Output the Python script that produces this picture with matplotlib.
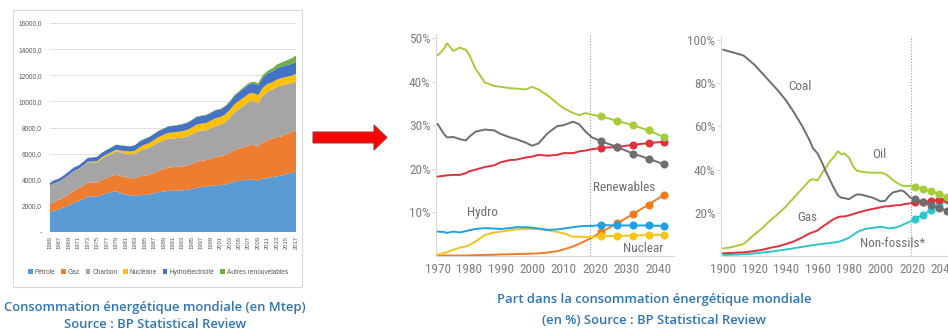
import matplotlib
matplotlib.use("Agg")
import matplotlib.pyplot as plt
from matplotlib.patches import Rectangle, Polygon
from matplotlib import font_manager

# ---------------- data: panel 1 (Mtep, stacked) ----------------
years1 = list(range(1965, 2018))
petrole = [1530, 1640, 1750, 1890, 2040, 2250, 2360, 2530, 2740, 2700,
           2690, 2860, 2960, 3060, 3110, 2970, 2880, 2800, 2780, 2830,
           2820, 2900, 2960, 3050, 3100, 3150, 3150, 3190, 3180, 3240,
           3290, 3370, 3450, 3470, 3540, 3570, 3590, 3630, 3720, 3860,
           3910, 3960, 4010, 3990, 3920, 4080, 4130, 4200, 4270, 4320,
           4450, 4540, 4620]
gaz = [630, 680, 720, 780, 850, 910, 960, 1010, 1060, 1080,
       1090, 1140, 1170, 1210, 1270, 1300, 1320, 1320, 1340, 1440,
       1480, 1500, 1570, 1640, 1710, 1770, 1810, 1820, 1850, 1860,
       1920, 2010, 2000, 2030, 2080, 2170, 2200, 2270, 2330, 2420,
       2480, 2540, 2620, 2680, 2630, 2820, 2880, 2940, 2990, 3010,
       3060, 3100, 3160]
charbon = [1400, 1420, 1400, 1430, 1470, 1480, 1470, 1490, 1540, 1540,
           1570, 1640, 1690, 1700, 1780, 1800, 1800, 1820, 1870, 1960,
           2040, 2060, 2130, 2170, 2200, 2220, 2190, 2180, 2190, 2210,
           2260, 2300, 2300, 2290, 2320, 2380, 2400, 2480, 2690, 2880,
           3030, 3180, 3330, 3360, 3320, 3530, 3730, 3760, 3860, 3880,
           3790, 3730, 3730]
nucleaire = [6, 8, 9, 12, 14, 18, 25, 35, 45, 60,
             85, 100, 125, 145, 150, 160, 190, 210, 240, 290,
             340, 360, 390, 420, 430, 450, 470, 480, 500, 510,
             530, 550, 550, 560, 580, 590, 600, 610, 600, 620,
             630, 635, 620, 620, 610, 625, 600, 560, 560, 575,
             580, 590, 596]
hydroelec = [210, 225, 230, 240, 255, 265, 275, 290, 295, 320,
             330, 335, 340, 365, 380, 390, 395, 405, 420, 430,
             440, 450, 455, 465, 465, 490, 500, 500, 525, 530,
             560, 570, 580, 585, 590, 600, 590, 600, 605, 640,
             660, 690, 700, 730, 740, 780, 790, 830, 860, 880,
             885, 910, 920]
autres = [3, 3, 3, 3, 3, 4, 4, 4, 4, 5,
          5, 5, 6, 6, 7, 8, 9, 10, 11, 13,
          15, 17, 19, 21, 24, 27, 29, 31, 33, 35,
          37, 39, 42, 45, 48, 51, 56, 63, 70, 80,
          90, 105, 120, 140, 160, 180, 210, 240, 280, 320,
          370, 420, 490]
labels1 = ["Pétrole", "Gaz", "Charbon", "Nucléaire", "Hydroélectricité", "Autres renouvelables"]
yticks1 = [0, 2000, 4000, 6000, 8000, 10000, 12000, 14000, 16000]

# ---------------- data: panel 2 (% share, 1970-2040) ----------------
yrs2 = [1970, 1972, 1973, 1975, 1977, 1979, 1980, 1982, 1985, 1988, 1990, 1993,
        1995, 1998, 2000, 2002, 2005, 2008, 2010, 2013, 2015, 2017, 2019]
oil2 = [46.0, 47.5, 48.8, 47.0, 47.8, 47.3, 46.2, 43.0, 39.8, 39.0, 38.8, 38.5,
        38.4, 38.2, 38.8, 38.2, 36.8, 35.0, 33.9, 32.8, 32.3, 32.8, 32.4]
coal2 = [30.3, 28.0, 27.2, 27.3, 26.8, 26.5, 27.3, 28.5, 29.0, 28.8, 28.0, 27.2,
         26.8, 26.0, 25.3, 25.8, 28.2, 29.8, 30.0, 30.8, 30.2, 28.5, 27.2]
gas2 = [18.2, 18.4, 18.5, 18.6, 18.6, 19.0, 19.4, 19.8, 20.4, 20.8, 21.5, 22.0,
        22.1, 22.6, 22.8, 23.2, 23.0, 23.2, 23.6, 23.6, 24.0, 24.2, 24.5]
hydro2 = [5.6, 5.5, 5.3, 5.6, 5.4, 5.7, 5.9, 6.2, 6.4, 6.3, 6.2, 6.4,
          6.6, 6.6, 6.5, 6.3, 6.0, 6.1, 6.3, 6.6, 6.8, 6.9, 6.9]
nuc2 = [0.3, 0.7, 0.9, 1.4, 1.9, 2.2, 2.5, 3.3, 4.8, 5.4, 5.6, 5.9,
        6.1, 6.2, 6.2, 6.2, 5.9, 5.5, 5.2, 4.4, 4.4, 4.4, 4.3]
ren2 = [0.1, 0.1, 0.1, 0.1, 0.1, 0.1, 0.15, 0.2, 0.25, 0.3, 0.35, 0.4,
        0.45, 0.5, 0.55, 0.6, 0.8, 1.1, 1.5, 2.2, 2.8, 3.5, 4.2]
proj_yrs = [2022, 2027, 2032, 2037, 2042]
oil_p = [32.0, 31.0, 30.0, 28.8, 27.2]
coal_p = [26.3, 25.0, 23.5, 22.3, 21.0]
gas_p = [24.8, 25.0, 25.5, 25.9, 26.2]
hydro_p = [7.1, 7.0, 7.0, 7.0, 6.9]
nuc_p = [4.6, 4.6, 4.7, 4.8, 4.9]
ren_p = [5.5, 7.5, 9.6, 11.8, 14.1]

# ---------------- data: panel 3 (% share, 1900-2040) ----------------
yrs3 = [1900, 1905, 1910, 1913, 1920, 1925, 1930, 1935, 1940, 1945, 1950, 1955,
        1957, 1960, 1963, 1965, 1968, 1970, 1973, 1975, 1977, 1980, 1983, 1985,
        1988, 1990, 1995, 2000, 2003, 2005, 2008, 2010, 2013, 2015, 2019]
coal3 = [95.5, 94.5, 93.5, 92.8, 88.5, 84.5, 80.5, 76.5, 72.0, 66.5, 60.5, 53.5,
         50.0, 47.5, 43.0, 39.5, 35.0, 32.0, 28.0, 27.0, 26.8, 26.3, 27.8, 28.5,
         28.4, 28.0, 27.0, 25.3, 25.5, 27.5, 29.5, 29.8, 30.4, 29.8, 27.0]
oil3 = [3.5, 4.0, 5.0, 5.5, 10.0, 13.0, 16.5, 19.5, 23.0, 27.0, 31.0, 35.0,
        35.5, 35.0, 38.5, 40.5, 44.0, 45.5, 48.5, 47.0, 47.5, 45.5, 41.0, 39.5,
        39.0, 38.8, 38.5, 38.6, 38.0, 37.0, 35.0, 34.0, 32.8, 32.3, 32.5]
gas3 = [1.3, 1.4, 1.6, 1.7, 2.3, 2.9, 3.8, 4.5, 5.5, 6.8, 8.5, 10.5,
        11.0, 11.8, 13.5, 14.5, 16.0, 17.0, 18.0, 18.3, 18.3, 18.8, 19.5, 20.0,
        20.5, 21.0, 21.8, 22.5, 23.0, 23.0, 23.3, 23.5, 23.6, 24.0, 24.4]
nonfos3 = [0.5, 0.6, 0.7, 0.8, 1.2, 1.6, 2.0, 2.5, 3.0, 3.6, 4.2, 4.8,
           5.0, 5.3, 5.6, 5.8, 6.0, 6.2, 6.5, 7.0, 7.5, 8.5, 10.0, 11.0,
           12.0, 12.5, 13.0, 13.5, 13.2, 12.8, 13.0, 13.3, 14.0, 14.8, 16.0]
nonfos_p = [17.2, 19.1, 21.3, 23.6, 25.9]

# ---------------- fonts ----------------
_fonts = font_manager.fontManager.ttflist
_names = {f.name for f in _fonts}
NARROW_SIZE = 9.5
if "Liberation Sans Narrow" in _names:
    NARROW = dict(family=["Liberation Sans Narrow", "DejaVu Sans"])
elif "Roboto Condensed" in _names:
    NARROW = dict(family=["Roboto Condensed", "DejaVu Sans"])
elif any(f.name == "DejaVu Sans" and f.stretch == "condensed" for f in _fonts):
    NARROW = dict(family=["DejaVu Sans"], stretch="condensed")
else:
    NARROW = dict(family=["Liberation Sans", "DejaVu Sans"])
    NARROW_SIZE = 8.3

# ---------------- styling ----------------
W, H = 948, 330
fig = plt.figure(figsize=(W / 100, H / 100), dpi=100)
fig.patch.set_facecolor("white")

def ax_px(x0, y0, x1, y1):
    return fig.add_axes([x0 / W, 1 - y1 / H, (x1 - x0) / W, (y1 - y0) / H])

def fx(x):
    return x / W

def fy(y):
    return 1 - y / H

GREY_TXT = "#7f7f7f"
C_OIL, C_COAL, C_GAS = "#a5cc3a", "#6e6e6e", "#e0303b"
C_HYD, C_NUC, C_REN, C_NF = "#1ea0e2", "#f5c518", "#f47a20", "#2cc6cc"

# ---- panel 1 frame ----
fig.add_artist(Rectangle((fx(13), fy(287)), (302 - 13) / W, (287 - 10) / H,
                         transform=fig.transFigure, fill=False,
                         ec="#d9d9d9", lw=0.8))

ax1 = ax_px(50, 23, 296, 232)
cols1 = ["#5b9bd5", "#ed7d31", "#a5a5a5", "#ffc000", "#4472c4", "#70ad47"]
polys = ax1.stackplot(years1, petrole, gaz, charbon, nucleaire, hydroelec, autres,
                      colors=cols1, labels=labels1, lw=0)
ax1.set_xlim(years1[0], years1[-1])
ax1.set_ylim(0, 16000)
ax1.set_yticks(yticks1)
ax1.set_yticklabels(["-" if v == 0 else f"{v},0" for v in yticks1],
                    fontsize=4.7, color="#595959", family="Liberation Sans")
ax1.set_xticks(years1[::2])
ax1.set_xticklabels([str(y) for y in years1[::2]], rotation=90,
                    fontsize=4.2, color="#595959", family="Liberation Sans")
ax1.tick_params(axis="y", length=0, pad=6)
ax1.tick_params(axis="x", length=0, pad=3)
ax1.yaxis.grid(True, color="#d9d9d9", lw=0.6)
ax1.set_axisbelow(True)
for s in ax1.spines.values():
    s.set_visible(False)
fig.legend(polys, labels1, loc="center", bbox_to_anchor=(fx(158), fy(272)),
           ncol=6, frameon=False, prop={"family": "Liberation Sans", "size": 4.7},
           handlelength=0.7, handleheight=0.7, handletextpad=0.3,
           columnspacing=0.9, labelcolor="#595959")

# ---- arrow ----
arrow_pts = [(313, 132), (374, 132), (374, 125), (387, 137.5),
             (374, 150), (374, 143), (313, 143)]
fig.add_artist(Polygon([(fx(x), fy(y)) for x, y in arrow_pts], closed=True,
                       transform=fig.transFigure, fc="#ff0000", ec="#a33a3a", lw=0.8))

def style_share(ax, yt):
    for s in ("top", "right"):
        ax.spines[s].set_visible(False)
    for s in ("left", "bottom"):
        ax.spines[s].set_color("#d9d9d9")
        ax.spines[s].set_linewidth(0.8)
    ax.set_yticks(yt)
    ax.set_yticklabels([f"{v}%" for v in yt])
    ax.tick_params(axis="y", length=3, color="#d9d9d9", pad=1,
                   labelsize=NARROW_SIZE, labelcolor=GREY_TXT)
    ax.tick_params(axis="x", length=0, pad=5, labelsize=NARROW_SIZE, labelcolor=GREY_TXT)
    for lab in ax.get_xticklabels() + ax.get_yticklabels():
        lab.set_family(NARROW["family"])
        if "stretch" in NARROW:
            lab.set_stretch(NARROW["stretch"])

def series(ax, xh, yh, yp, color, z):
    ax.plot(list(xh) + list(proj_yrs), list(yh) + list(yp), color=color,
            lw=1.4, zorder=z, solid_capstyle="round")
    ax.plot(proj_yrs, yp, "o", color=color, ms=5.8, mew=0, zorder=z + 0.5)

# ---- panel 2 ----
ax2 = ax_px(436, 256 - 51 * 4.36, 436 + 75.5 * 3.15, 256)
ax2.set_xlim(1969.5, 2045)
ax2.set_ylim(0, 51)
ax2.axvline(2018.5, color="#9a9a9a", ls=(0, (1, 1.6)), lw=0.8, zorder=1)
series(ax2, yrs2, ren2, ren_p, C_REN, 3)
series(ax2, yrs2, nuc2, nuc_p, C_NUC, 4)
series(ax2, yrs2, hydro2, hydro_p, C_HYD, 5)
series(ax2, yrs2, gas2, gas_p, C_GAS, 6)
series(ax2, yrs2, coal2, coal_p, C_COAL, 7)
series(ax2, yrs2, oil2, oil_p, C_OIL, 8)
ax2.set_xticks([1970, 1980, 1990, 2000, 2010, 2020, 2030, 2040])
style_share(ax2, [10, 20, 30, 40, 50])
tk = dict(fontsize=NARROW_SIZE, color="#6f6f6f", va="center", ha="left", **NARROW)
ax2.text(1979.3, 9.9, "Hydro", **tk)
ax2.text(2019.3, 15.6, "Renewables", **tk)
ax2.text(2028.9, 1.8, "Nuclear", **tk)

# ---- panel 3 ----
ax3 = ax_px(721, 256 - 102 * 2.16, 721 + 147.3 * 1.575, 256)
ax3.set_xlim(1898.7, 2046)
ax3.set_ylim(0, 102)
ax3.axvline(2019.5, color="#9a9a9a", ls=(0, (1, 1.6)), lw=0.8, zorder=1)
series(ax3, yrs3, nonfos3, nonfos_p, C_NF, 3)
series(ax3, yrs3, gas3, gas_p, C_GAS, 4)
series(ax3, yrs3, coal3, coal_p, C_COAL, 6)
series(ax3, yrs3, oil3, oil_p, C_OIL, 5)
ax3.set_xticks([1900, 1920, 1940, 1960, 1980, 2000, 2020, 2040])
style_share(ax3, [20, 40, 60, 80, 100])
ax3.text(1941.2, 78.7, "Coal", **tk)
ax3.text(1994.6, 46.8, "Oil", **tk)
ax3.text(1947.0, 17.6, "Gas", **tk)
ax3.text(1987.0, 6.0, "Non-fossils*", **tk)

# ---- captions ----
cap = dict(ha="center", va="center", fontsize=9.4, color="#2f75b5",
           family=["Open Sans", "DejaVu Sans"], fontweight="semibold")
fig.text(fx(155), fy(308), "Consommation énergétique mondiale (en Mtep)", **cap)
fig.text(fx(155), fy(324), "Source : BP Statistical Review", **cap)
fig.text(fx(654), fy(300), "Part dans la consommation énergétique mondiale", **cap)
fig.text(fx(654), fy(320), "(en %) Source : BP Statistical Review", **cap)

fig.savefig("out.png", dpi=100)
